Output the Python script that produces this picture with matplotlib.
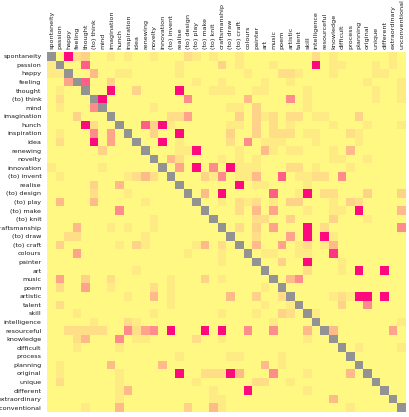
import numpy as np
import matplotlib
matplotlib.use("Agg")
import matplotlib.pyplot as plt
from matplotlib.colors import LinearSegmentedColormap

words = ["spontaneity", "passion", "happy", "feeling", "thought", "(to) think",
         "mind", "imagination", "hunch", "inspiration", "idea", "renewing",
         "novelty", "innovation", "(to) invent", "realise", "(to) design",
         "(to) play", "(to) make", "(to) knit", "craftsmanship", "(to) draw",
         "(to) craft", "colours", "painter", "art", "music", "poem", "artistic",
         "talent", "skill", "intelligence", "resourceful", "knowledge",
         "difficult", "process", "planning", "original", "unique", "different",
         "extraordinary", "unconventional"]

# association strength per cell, 0 (none) .. 9 (strongest); x = diagonal
matrix_rows = [
    "x09230 010100 100021 010010 000000 020100 000010",
    "1x0070 000000 000100 003010 001000 090110 001010",
    "11x004 001100 000100 000001 000221 000100 001100",
    "005x70 030000 000001 001000 010010 000000 010001",
    "0100x0 090030 000900 011100 110000 100000 001001",
    "02000x 900000 000060 000004 000060 100000 001001",
    "010006 x00000 100000 000110 300000 100000 000000",
    "000300 0x0000 002250 000030 312022 011000 300000",
    "000092 00x007 391000 000110 302010 000100 010001",
    "010006 050x00 300900 000300 302220 110002 100000",
    "020009 0500x0 090100 000206 011100 010000 100000",
    "000000 30000x 000119 000010 041011 000104 000000",
    "000000 000000 x04200 001010 100000 000110 010000",
    "100000 100000 0x0509 060911 100022 010001 000000",
    "010000 000124 20x000 316011 400701 122060 000000",
    "000003 004000 000x00 000090 110000 100000 000000",
    "000002 000100 0000x0 409000 007001 902200 030003",
    "040004 000001 00000x 001021 201033 000103 200000",
    "000000 006000 000000 x00020 405000 100110 900004",
    "000000 000000 100000 0x0000 220030 000300 010000",
    "000400 010100 100000 00x020 305000 902000 000006",
    "002200 000001 000000 000x00 200050 909100 000000",
    "030000 001031 000001 4020x0 400501 201400 000000",
    "000500 000000 000010 00100x 011001 100800 000000",
    "000000 000000 000000 001000 x00300 900010 000000",
    "000000 000010 000000 000000 0x0000 200010 900900",
    "050030 020000 001000 301000 00x046 000000 000000",
    "020050 010000 201000 000000 010x00 000000 000000",
    "000000 000100 401000 000400 3002x0 000121 990900",
    "020000 000000 001000 000000 01001x 000030 060000",
    "000100 000000 100000 001000 100320 x10000 000000",
    "000001 000210 000000 000000 001000 0x0000 000001",
    "002222 200625 609000 909006 006000 40x400 000050",
    "000240 006011 000002 001000 000000 100x00 000000",
    "000100 001000 000000 000000 000000 0000x0 100001",
    "000000 000000 000100 000110 000100 00000x 000000",
    "010000 040000 040000 000000 040100 000000 x00000",
    "010000 001000 000900 222940 006000 100004 0x0000",
    "020000 001000 000001 000000 220010 000000 00x000",
    "000000 001400 000000 010009 000000 100000 000x00",
    "000000 001000 000000 011000 000000 000400 0000x0",
    "000010 004000 000030 041000 000000 000001 00000x",
]

n = len(words)
vals = np.full((n, n), np.nan)
for i, row in enumerate(matrix_rows):
    row = row.replace(" ", "")
    assert len(row) == n, (i, len(row))
    for j, ch in enumerate(row):
        if ch != "x":
            vals[i, j] = int(ch) / 9.0

W, H = 409, 417
fig = plt.figure(figsize=(W / 100, H / 100), dpi=100)
fig.patch.set_facecolor("white")
left, right, top, bottom = 47.4, 406, 52, 412
ax = fig.add_axes([left / W, 1 - bottom / H, (right - left) / W, (bottom - top) / H])

cmap = LinearSegmentedColormap.from_list(
    "yp", ["#FFF882", "#FFD28A", "#FF8C8C", "#FF0A7E"])
cmap.set_bad("#939393")
ax.imshow(np.ma.masked_invalid(vals), cmap=cmap, vmin=0, vmax=1,
          aspect="auto", interpolation="nearest")

ax.set_xticks(range(n))
ax.set_yticks(range(n))
ax.set_yticklabels(words, fontsize=4.6, color="#1a1a1a")
ax.set_xticklabels(words, fontsize=4.6, color="#1a1a1a", rotation=90)
ax.xaxis.tick_top()
ax.tick_params(axis="both", length=0)
ax.tick_params(axis="y", pad=4.3)
ax.tick_params(axis="x", pad=2.2)
for s in ax.spines.values():
    s.set_visible(False)

fig.savefig("out.png", dpi=100, facecolor="white")
